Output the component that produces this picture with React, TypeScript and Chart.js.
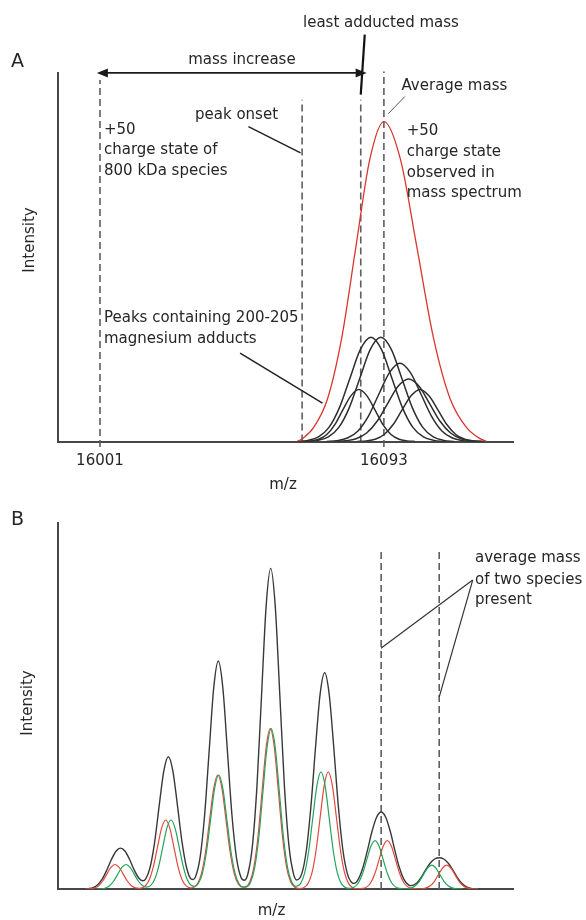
import React, { useEffect, useRef } from "react";
import { Chart, registerables } from "chart.js";

Chart.register(...registerables);

const FONT_FAMILY = "'DejaVu Sans', Verdana, sans-serif";
const TEXT_COLOR = "#262626";
const AXIS_COLOR = "#474747";
const DASH_COLOR = "#5e5e5e";

// ---------------- Panel A (m/z, intensity 0-100) ----------------
const A_MZ_MIN = 15987.3;
const A_MZ_MAX = 16135.0;
const A_TICKS = [16001, 16093];

const A_ENVELOPE_MZ = [16064.8, 16066.5, 16070.25, 16074.8, 16079.35, 16083.9, 16088.45, 16093.0, 16098.35, 16103.7, 16109.05, 16114.4, 16119.75, 16124.3, 16126.3];
const A_ENVELOPE_I = [0, 0.7, 3.81, 11.76, 28.22, 52.71, 76.69, 86.9, 76.69, 52.71, 28.22, 11.76, 3.81, 0.7, 0];

const A_ADDUCT1_MZ = [16066.7, 16069.3, 16071.9, 16074.5, 16077.1, 16079.7, 16082.3, 16084.9, 16087.5, 16090.1, 16092.7, 16095.3, 16097.9, 16100.5, 16103.1];
const A_ADDUCT1_I = [0, 0.16, 0.62, 1.9, 4.6, 8.6, 12.4, 14.1, 12.4, 8.6, 4.6, 1.9, 0.62, 0.16, 0];
const A_ADDUCT2_MZ = [16065.0, 16068.4, 16071.8, 16075.2, 16078.6, 16082.0, 16085.4, 16088.8, 16092.2, 16095.6, 16099.0, 16102.4, 16105.8, 16109.2, 16112.6];
const A_ADDUCT2_I = [0, 0.31, 1.25, 3.82, 9.2, 17.2, 25.0, 28.3, 25.0, 17.2, 9.2, 3.82, 1.25, 0.31, 0];
const A_ADDUCT3_MZ = [16068.2, 16071.6, 16075.0, 16078.4, 16081.8, 16085.2, 16088.6, 16092.0, 16095.4, 16098.8, 16102.2, 16105.6, 16109.0, 16112.4, 16115.8];
const A_ADDUCT3_I = [0, 0.31, 1.25, 3.82, 9.2, 17.2, 25.0, 28.3, 25.0, 17.2, 9.2, 3.82, 1.25, 0.31, 0];
const A_ADDUCT4_MZ = [16074.4, 16077.8, 16081.2, 16084.6, 16088.0, 16091.4, 16094.8, 16098.2, 16101.6, 16105.0, 16108.4, 16111.8, 16115.2, 16118.6, 16122.0];
const A_ADDUCT4_I = [0, 0.23, 0.94, 2.87, 6.9, 12.9, 18.7, 21.25, 18.7, 12.9, 6.9, 2.87, 0.94, 0.23, 0];
const A_ADDUCT5_MZ = [16077.2, 16080.6, 16084.0, 16087.4, 16090.8, 16094.2, 16097.6, 16101.0, 16104.4, 16107.8, 16111.2, 16114.6, 16118.0, 16121.4, 16124.8];
const A_ADDUCT5_I = [0, 0.19, 0.75, 2.3, 5.5, 10.3, 15.0, 17.0, 15.0, 10.3, 5.5, 2.3, 0.75, 0.19, 0];
const A_ADDUCT6_MZ = [16084.4, 16087.3, 16090.2, 16093.1, 16096.0, 16098.9, 16101.8, 16104.7, 16107.6, 16110.5, 16113.4, 16116.3, 16119.2, 16122.1, 16125.0];
const A_ADDUCT6_I = [0, 0.16, 0.62, 1.9, 4.6, 8.6, 12.4, 14.1, 12.4, 8.6, 4.6, 1.9, 0.62, 0.16, 0];

// dashed reference lines: +50 of 800 kDa, peak onset, least adducted, average mass
const A_MARKER_MZ = [16001, 16066.5, 16085.5, 16093.0];
const A_MARKER_TOP = [98.2, 92.8, 92.8, 100.5];
const A_MARKER_BOTTOM = [-1.5, 0, 0, -1.5];

// ---------------- Panel B (arbitrary m/z 0-100, intensity 0-100) ----------------
const B_BLACK: [number, number][] = [
  [5.8, 0], [6.8, 0.1], [7.8, 0.39], [8.8, 1.16], [9.8, 2.75], [10.8, 5.21], [11.8, 8.05], [12.8, 10.31], [13.8, 11.18], [14.8, 10.31], [15.8, 8.05], [16.8, 5.21], [17.8, 3.02],
  [18.7, 2.25],
  [19.3, 2.71], [20.3, 5.94], [21.3, 12.86], [22.3, 22.86], [23.3, 32.23], [24.3, 36.15], [25.3, 32.23], [26.3, 22.86], [27.3, 12.86], [28.3, 5.88], [29.3, 2.74],
  [29.75, 2.58],
  [30.27, 3.32], [31.27, 8.55], [32.27, 20.23], [33.27, 37.79], [34.27, 54.98], [35.27, 62.3], [36.27, 54.98], [37.27, 37.79], [38.27, 20.23], [39.27, 8.51], [40.27, 3.17],
  [41.03, 2.38],
  [41.78, 4.16], [42.78, 11.9], [43.78, 28.44], [44.78, 53.13], [45.78, 77.3], [46.78, 87.6], [47.78, 77.3], [48.78, 53.13], [49.78, 28.44], [50.78, 11.91], [51.78, 4.2],
  [52.5, 2.47],
  [53.63, 4.26], [54.63, 10.73], [55.63, 22.74], [56.63, 38.74], [57.63, 53.18], [58.63, 59.08], [59.63, 53.18], [60.63, 38.74], [61.63, 22.74], [62.63, 10.72], [63.63, 4.14], [64.63, 1.73],
  [65.1, 1.55],
  [66.04, 2.71], [67.04, 5.86], [68.04, 10.63], [69.04, 15.77], [70.04, 19.62], [71.04, 21.02], [72.04, 19.62], [73.04, 15.77], [74.04, 10.63], [75.04, 5.86], [76.04, 2.64], [77.04, 1.13],
  [77.5, 0.91],
  [78.79, 1.58], [79.79, 3.12], [80.79, 5.18], [81.79, 7.04], [82.79, 8.19], [83.79, 8.54], [84.79, 8.19], [85.79, 7.04], [86.79, 5.18], [87.79, 3.12], [88.79, 1.5], [89.79, 0.56], [90.79, 0.17], [91.79, 0.04], [92.8, 0],
];

const B_RED: [number, number][] = [
  [6.0, 0], [7.19, 0.07], [8.09, 0.29], [8.99, 0.91], [9.89, 2.18], [10.79, 4.06], [11.69, 5.91], [12.59, 6.7], [13.49, 5.91], [14.39, 4.06], [15.29, 2.18], [16.19, 0.91], [17.09, 0.29], [17.99, 0.19],
  [18.32, 0.23], [19.22, 0.83], [20.12, 2.55], [21.02, 6.12], [21.92, 11.43], [22.82, 16.64], [23.72, 18.85], [24.62, 16.64], [25.52, 11.43], [26.42, 6.12], [27.32, 2.55], [28.22, 0.85], [29.12, 0.32],
  [29.77, 0.42], [30.67, 1.37], [31.57, 4.21], [32.47, 10.11], [33.37, 18.89], [34.27, 27.49], [35.17, 31.15], [36.07, 27.49], [36.97, 18.89], [37.87, 10.11], [38.77, 4.21], [39.67, 1.37], [40.57, 0.49],
  [41.28, 0.59], [42.18, 1.92], [43.08, 5.93], [43.98, 14.22], [44.88, 26.56], [45.78, 38.65], [46.68, 43.8], [47.58, 38.65], [48.48, 26.56], [49.38, 14.22], [50.28, 5.93], [51.18, 1.92], [52.08, 0.49],
  [53.05, 0.14],
  [54.03, 0.36], [54.93, 1.4], [55.83, 4.33], [56.73, 10.39], [57.63, 19.41], [58.53, 28.24], [59.43, 32.0], [60.33, 28.24], [61.23, 19.41], [62.13, 10.39], [63.03, 4.33], [63.93, 1.4], [64.83, 0.36],
  [65.91, 0.07],
  [66.99, 0.15], [67.89, 0.58], [68.79, 1.79], [69.69, 4.29], [70.59, 8.01], [71.49, 11.65], [72.39, 13.2], [73.29, 11.65], [74.19, 8.01], [75.09, 4.29], [75.99, 1.79], [76.89, 0.58], [77.79, 0.15],
  [78.92, 0.02],
  [80.04, 0.07], [80.94, 0.29], [81.84, 0.88], [82.74, 2.11], [83.64, 3.94], [84.54, 5.74], [85.44, 6.5], [86.34, 5.74], [87.24, 3.94], [88.14, 2.11], [89.04, 0.88], [89.94, 0.29], [90.84, 0.07], [92.5, 0],
];

const B_GREEN: [number, number][] = [
  [8.5, 0], [9.6, 0.07], [10.5, 0.29], [11.4, 0.91], [12.3, 2.18], [13.2, 4.06], [14.1, 5.91], [15.0, 6.7], [15.9, 5.91], [16.8, 4.06], [17.7, 2.18], [18.6, 0.95], [19.5, 0.51],
  [20.38, 0.91], [21.28, 2.57], [22.18, 6.12], [23.08, 11.43], [23.98, 16.64], [24.88, 18.85], [25.78, 16.64], [26.68, 11.43], [27.58, 6.12], [28.48, 2.55], [29.38, 0.95],
  [30.13, 0.72],
  [30.87, 1.44], [31.77, 4.21], [32.67, 10.11], [33.57, 18.89], [34.47, 27.49], [35.37, 31.15], [36.27, 27.49], [37.17, 18.89], [38.07, 10.11], [38.97, 4.21], [39.87, 1.37], [40.77, 0.49],
  [41.48, 0.59], [42.38, 1.92], [43.28, 5.93], [44.18, 14.22], [45.08, 26.56], [45.98, 38.65], [46.88, 43.8], [47.78, 38.65], [48.68, 26.56], [49.58, 14.22], [50.48, 5.93], [51.38, 1.97],
  [52.36, 0.74],
  [53.33, 1.47], [54.23, 4.33], [55.13, 10.39], [56.03, 19.41], [56.93, 28.24], [57.83, 32.0], [58.73, 28.24], [59.63, 19.41], [60.53, 10.39], [61.43, 4.33], [62.33, 1.4], [63.23, 0.38],
  [64.0, 0.18],
  [65.19, 0.58], [66.09, 1.79], [66.99, 4.29], [67.89, 8.01], [68.79, 11.65], [69.69, 13.2], [70.59, 11.65], [71.49, 8.01], [72.39, 4.29], [73.29, 1.79], [74.19, 0.58], [75.09, 0.15],
  [75.92, 0.05],
  [76.74, 0.07], [77.64, 0.29], [78.54, 0.88], [79.44, 2.11], [80.34, 3.94], [81.24, 5.74], [82.14, 6.5], [83.04, 5.74], [83.94, 3.94], [84.84, 2.11], [85.74, 0.88], [86.64, 0.29], [87.54, 0.07], [89.0, 0],
];

const B_MARKER_X = [71.04, 83.79];
const B_MARKER_TOP = [92.6, 92.6];
const B_MARKER_BOTTOM = [0, 0];

// ---------------- annotations (data units) ----------------
type Note = { text: string; x: number; y: number; align?: CanvasTextAlign };
type Seg = { x1: number; y1: number; x2: number; y2: number; w: number; c: string };

const A_NOTES: Note[] = [
  { text: "least adducted mass", x: 16066.8, y: 113.7 },
  { text: "mass increase", x: 16047.0, y: 103.7, align: "center" },
  { text: "Average mass", x: 16098.7, y: 96.4 },
  { text: "peak onset", x: 16031.8, y: 88.7 },
  { text: "+50", x: 16002.3, y: 84.6 },
  { text: "charge state of", x: 16002.3, y: 79.1 },
  { text: "800 kDa species", x: 16002.3, y: 73.5 },
  { text: "+50", x: 16100.4, y: 84.2 },
  { text: "charge state", x: 16100.4, y: 78.5 },
  { text: "observed in", x: 16100.4, y: 72.9 },
  { text: "mass spectrum", x: 16100.4, y: 67.4 },
  { text: "Peaks containing 200-205", x: 16002.3, y: 33.5 },
  { text: "magnesium adducts", x: 16002.3, y: 27.8 },
];
const A_LEADERS: Seg[] = [
  { x1: 16086.8, y1: 110.5, x2: 16085.5, y2: 94.2, w: 2.2, c: "#111" },
  { x1: 16099.8, y1: 93.7, x2: 16094.4, y2: 89.0, w: 1, c: "#555" },
  { x1: 16049.1, y1: 85.5, x2: 16066.0, y2: 78.4, w: 1.5, c: "#222" },
  { x1: 16046.4, y1: 24.0, x2: 16073.1, y2: 10.4, w: 1.5, c: "#222" },
];
const A_ARROW = { x1: 16000.0, x2: 16087.4, y: 100.1 };

const B_NOTES: Note[] = [
  { text: "average mass", x: 91.65, y: 90.4 },
  { text: "of two species", x: 91.65, y: 84.4 },
  { text: "present", x: 91.65, y: 78.9 },
];
const B_LEADERS: Seg[] = [
  { x1: 91.15, y1: 84.4, x2: 71.0, y2: 65.8, w: 1.2, c: "#333" },
  { x1: 91.15, y1: 84.4, x2: 83.8, y2: 52.5, w: 1.2, c: "#333" },
];

const pts = (xs: number[], ys: number[]) => xs.map((x, i) => ({ x, y: ys[i] }));
const pairPts = (p: [number, number][]) => p.map(([x, y]) => ({ x, y }));

function drawNotes(ctx: CanvasRenderingContext2D, xs: any, ys: any, notes: Note[], leaders: Seg[]) {
  ctx.font = `15px ${FONT_FAMILY}`;
  ctx.fillStyle = TEXT_COLOR;
  ctx.textBaseline = "middle";
  notes.forEach((n) => {
    ctx.textAlign = n.align || "left";
    ctx.fillText(n.text, xs.getPixelForValue(n.x), ys.getPixelForValue(n.y));
  });
  leaders.forEach((s) => {
    ctx.beginPath();
    ctx.strokeStyle = s.c;
    ctx.lineWidth = s.w;
    ctx.moveTo(xs.getPixelForValue(s.x1), ys.getPixelForValue(s.y1));
    ctx.lineTo(xs.getPixelForValue(s.x2), ys.getPixelForValue(s.y2));
    ctx.stroke();
  });
}

function drawFrameText(ctx: CanvasRenderingContext2D, letter: string, lx: number, ly: number, ix: number, iy: number, mx: number, my: number) {
  ctx.fillStyle = TEXT_COLOR;
  ctx.font = `19px ${FONT_FAMILY}`;
  ctx.textAlign = "left";
  ctx.textBaseline = "alphabetic";
  ctx.fillText(letter, lx, ly);
  ctx.font = `15px ${FONT_FAMILY}`;
  ctx.textAlign = "center";
  ctx.textBaseline = "middle";
  ctx.fillText("m/z", mx, my);
  ctx.save();
  ctx.translate(ix, iy);
  ctx.rotate(-Math.PI / 2);
  ctx.fillText("Intensity", 0, 0);
  ctx.restore();
}

const annotA = {
  id: "annotA",
  afterDatasetsDraw(chart: any) {
    const ctx = chart.ctx as CanvasRenderingContext2D;
    const xs = chart.scales.x, ys = chart.scales.y;
    ctx.save();
    drawFrameText(ctx, "A", 11, 67, 30, 240, 283, 485);
    drawNotes(ctx, xs, ys, A_NOTES, A_LEADERS);
    const x1 = xs.getPixelForValue(A_ARROW.x1);
    const x2 = xs.getPixelForValue(A_ARROW.x2);
    const y = ys.getPixelForValue(A_ARROW.y);
    ctx.strokeStyle = "#1a1a1a";
    ctx.fillStyle = "#1a1a1a";
    ctx.lineWidth = 1.8;
    ctx.beginPath();
    ctx.moveTo(x1 + 6, y);
    ctx.lineTo(x2 - 6, y);
    ctx.stroke();
    [[x1, 1], [x2, -1]].forEach(([x, d]) => {
      ctx.beginPath();
      ctx.moveTo(x, y);
      ctx.lineTo(x + d * 11, y - 4.5);
      ctx.lineTo(x + d * 11, y + 4.5);
      ctx.closePath();
      ctx.fill();
    });
    ctx.restore();
  },
};

const annotB = {
  id: "annotB",
  afterDatasetsDraw(chart: any) {
    const ctx = chart.ctx as CanvasRenderingContext2D;
    const xs = chart.scales.x, ys = chart.scales.y;
    ctx.save();
    drawFrameText(ctx, "B", 11, 25, 28.5, 203, 271.5, 411.5);
    drawNotes(ctx, xs, ys, B_NOTES, B_LEADERS);
    ctx.restore();
  },
};

const curve = (data: any[], color: string, width: number, order: number) => ({
  data,
  borderColor: color,
  borderWidth: width,
  pointRadius: 0,
  cubicInterpolationMode: "monotone",
  fill: false,
  order,
});
const dashed = (x: number, bottom: number, top: number) => ({
  data: [{ x, y: bottom }, { x, y: top }],
  borderColor: DASH_COLOR,
  borderWidth: 1.6,
  borderDash: [7, 4],
  pointRadius: 0,
  tension: 0,
  clip: false,
  order: 5,
});

function axisOpts(extra: any) {
  return {
    grid: { display: false, drawTicks: false },
    border: { display: true, color: AXIS_COLOR, width: 2 },
    ...extra,
  };
}

function configA(): any {
  const adducts = [
    pts(A_ADDUCT1_MZ, A_ADDUCT1_I),
    pts(A_ADDUCT2_MZ, A_ADDUCT2_I),
    pts(A_ADDUCT3_MZ, A_ADDUCT3_I),
    pts(A_ADDUCT4_MZ, A_ADDUCT4_I),
    pts(A_ADDUCT5_MZ, A_ADDUCT5_I),
    pts(A_ADDUCT6_MZ, A_ADDUCT6_I),
  ];
  const datasets: any[] = [
    ...A_MARKER_MZ.map((mz, i) => dashed(mz, A_MARKER_BOTTOM[i], A_MARKER_TOP[i])),
    ...adducts.map((d) => curve(d, "#2e2e2e", 1.5, 2)),
    curve(pts(A_ENVELOPE_MZ, A_ENVELOPE_I), "#d9362e", 1.3, 1),
  ];
  return {
    type: "line",
    data: { datasets },
    options: {
      responsive: false,
      animation: false,
      events: [],
      layout: { padding: { left: 0, top: 73.3, right: 72.5, bottom: 0 } },
      plugins: { legend: { display: false }, tooltip: { enabled: false } },
      scales: {
        x: axisOpts({
          type: "linear",
          min: A_MZ_MIN,
          max: A_MZ_MAX,
          afterFit: (s: any) => { s.height = 58.5; },
          afterBuildTicks: (s: any) => { s.ticks = A_TICKS.map((v) => ({ value: v })); },
          ticks: {
            autoSkip: false,
            maxRotation: 0,
            padding: 11,
            color: TEXT_COLOR,
            font: { family: FONT_FAMILY, size: 15 },
            callback: (v: any) => String(v),
          },
        }),
        y: axisOpts({
          min: 0,
          max: 100,
          afterFit: (s: any) => { s.width = 57.7; },
          ticks: { display: false },
        }),
      },
    },
    plugins: [annotA],
  };
}

function configB(): any {
  const datasets: any[] = [
    ...B_MARKER_X.map((x, i) => dashed(x, B_MARKER_BOTTOM[i], B_MARKER_TOP[i])),
    curve(pairPts(B_BLACK), "#383838", 1.4, 3),
    curve(pairPts(B_RED), "#e0493d", 1.2, 2),
    curve(pairPts(B_GREEN), "#23a35a", 1.2, 1),
  ];
  return {
    type: "line",
    data: { datasets },
    options: {
      responsive: false,
      animation: false,
      events: [],
      layout: { padding: { left: 0, top: 23, right: 73, bottom: 0 } },
      plugins: { legend: { display: false }, tooltip: { enabled: false } },
      scales: {
        x: axisOpts({
          type: "linear",
          min: 0,
          max: 100,
          afterFit: (s: any) => { s.height = 31; },
          ticks: { display: false },
        }),
        y: axisOpts({
          min: 0,
          max: 100,
          afterFit: (s: any) => { s.width = 57.7; },
          ticks: { display: false },
        }),
      },
    },
    plugins: [annotB],
  };
}

function Panel({ build, top, height }: { build: () => any; top: number; height: number }) {
  const ref = useRef<HTMLCanvasElement>(null);
  useEffect(() => {
    const chart = new Chart(ref.current as HTMLCanvasElement, build());
    return () => chart.destroy();
  }, []);
  return (
    <canvas
      ref={ref}
      width={586}
      height={height}
      style={{ position: "absolute", left: 0, top, width: 586, height }}
    />
  );
}

export default function App() {
  return (
    <div style={{ position: "absolute", left: 0, top: 0, width: 586, height: 920, background: "#fff" }}>
      <Panel build={configA} top={0} height={500} />
      <Panel build={configB} top={500} height={420} />
    </div>
  );
}
